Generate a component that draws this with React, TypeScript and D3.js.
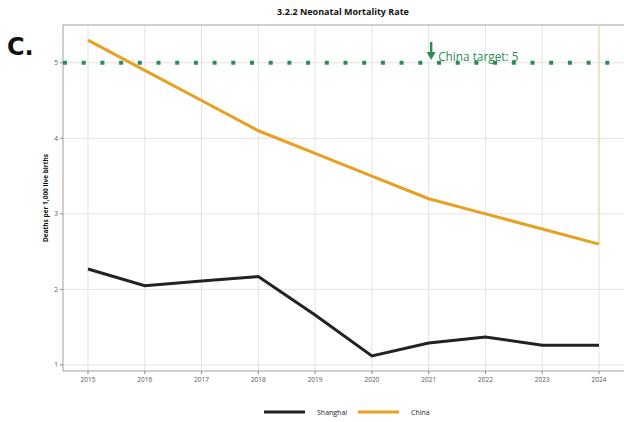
import React from "react";
import * as d3 from "d3";

const years = [2015, 2016, 2017, 2018, 2019, 2020, 2021, 2022, 2023, 2024];
const shanghai = [2.27, 2.05, 2.11, 2.17, 1.66, 1.12, 1.29, 1.37, 1.26, 1.26];
const china = [5.3, 4.9, 4.5, 4.1, 3.8, 3.5, 3.2, 3.0, 2.8, 2.6];
const yTicks = [1, 2, 3, 4, 5];
const target = 5;

const W = 624;
const H = 422;
const FONT = "'Open Sans', 'Noto Sans', sans-serif";
const GREEN = "#2e8b57";
const ORANGE = "#e8a020";

export default function App() {
  const left = 63, right = 624, top = 25, bottom = 371;
  const x = d3.scaleLinear().domain([2014.56, 2024.44]).range([left, right]);
  const y = d3.scaleLinear().domain([0.92, 5.5]).range([bottom, top]);
  const line = d3
    .line<[number, number]>()
    .x((d) => x(d[0]))
    .y((d) => y(d[1]));
  const shPts = years.map((yr, i) => [yr, shanghai[i]] as [number, number]);
  const chPts = years.map((yr, i) => [yr, china[i]] as [number, number]);
  const lastYear = years[years.length - 1];
  const arrowX = x(2021) + 2.5;

  return (
    <svg
      width={W}
      height={H}
      style={{ position: "absolute", left: 0, top: 0, background: "#fff" }}
      fontFamily={FONT}
    >
      <rect x={0} y={0} width={W} height={H} fill="#fff" />
      <text x={343} y={15} textAnchor="middle" fontSize={9} fontWeight={700} fill="#111">
        3.2.2 Neonatal Mortality Rate
      </text>
      <text x={7} y={55} fontSize={24} fontWeight={700} fill="#111" fontFamily="'DejaVu Sans', sans-serif">
        C.
      </text>
      {/* grid */}
      {yTicks.map((t) => (
        <line key={"gy" + t} x1={left} x2={right} y1={y(t)} y2={y(t)} stroke="#e3e3e3" strokeWidth={1} />
      ))}
      {years.map((yr) => (
        <line key={"gx" + yr} x1={x(yr)} x2={x(yr)} y1={top} y2={bottom} stroke="#e3e3e3" strokeWidth={1} />
      ))}
      {/* borders */}
      <line x1={left} x2={right} y1={top} y2={top} stroke="#a0a0a0" strokeWidth={1} />
      <line x1={left} x2={left} y1={top} y2={bottom} stroke="#a0a0a0" strokeWidth={1} />
      <line x1={left} x2={right} y1={bottom} y2={bottom} stroke="#a0a0a0" strokeWidth={1} />
      {/* y ticks */}
      {yTicks.map((t) => (
        <g key={"ty" + t}>
          <line x1={left - 3} x2={left} y1={y(t)} y2={y(t)} stroke="#888" />
          <text x={left - 5} y={y(t) + 2.2} textAnchor="end" fontSize={6.5} fill="#555">
            {t}
          </text>
        </g>
      ))}
      {years.map((yr) => (
        <g key={"tx" + yr}>
          <line x1={x(yr)} x2={x(yr)} y1={bottom} y2={bottom + 3} stroke="#888" />
          <text x={x(yr)} y={bottom + 11} textAnchor="middle" fontSize={6.5} fill="#555">
            {yr}
          </text>
        </g>
      ))}
      <text
        transform={`translate(48,${(top + bottom) / 2}) rotate(-90)`}
        textAnchor="middle"
        fontSize={6.5}
        fontWeight={700}
        fill="#111"
      >
        Deaths per 1,000 live births
      </text>
      {/* vertical line at last year */}
      <line
        x1={x(lastYear)}
        x2={x(lastYear)}
        y1={top}
        y2={y(china[china.length - 1])}
        stroke="#f3d9a8"
        strokeWidth={1.2}
      />
      {/* target line */}
      <line
        x1={left + 0}
        x2={right}
        y1={y(target)}
        y2={y(target)}
        stroke={GREEN}
        strokeWidth={4}
        strokeDasharray="4 14.7"
      />
      {/* series */}
      <path d={line(chPts) || ""} fill="none" stroke={ORANGE} strokeWidth={3} />
      <path d={line(shPts) || ""} fill="none" stroke="#222" strokeWidth={3} />
      {/* annotation */}
      <line x1={arrowX} x2={arrowX} y1={42} y2={53} stroke={GREEN} strokeWidth={2.4} />
      <path d={`M${arrowX - 4.5},${52} L${arrowX + 4.5},${52} L${arrowX},${60} Z`} fill={GREEN} />
      <text x={arrowX + 7} y={61} fontSize={11.8} fill={GREEN}>
        China target: 5
      </text>
      {/* legend */}
      <line x1={264} x2={305} y1={412} y2={412} stroke="#222" strokeWidth={3} />
      <text x={317} y={414.5} fontSize={7} fill="#222">Shanghai</text>
      <line x1={358} x2={399} y1={412} y2={412} stroke={ORANGE} strokeWidth={3} />
      <text x={411} y={414.5} fontSize={7} fill="#222">China</text>
    </svg>
  );
}
